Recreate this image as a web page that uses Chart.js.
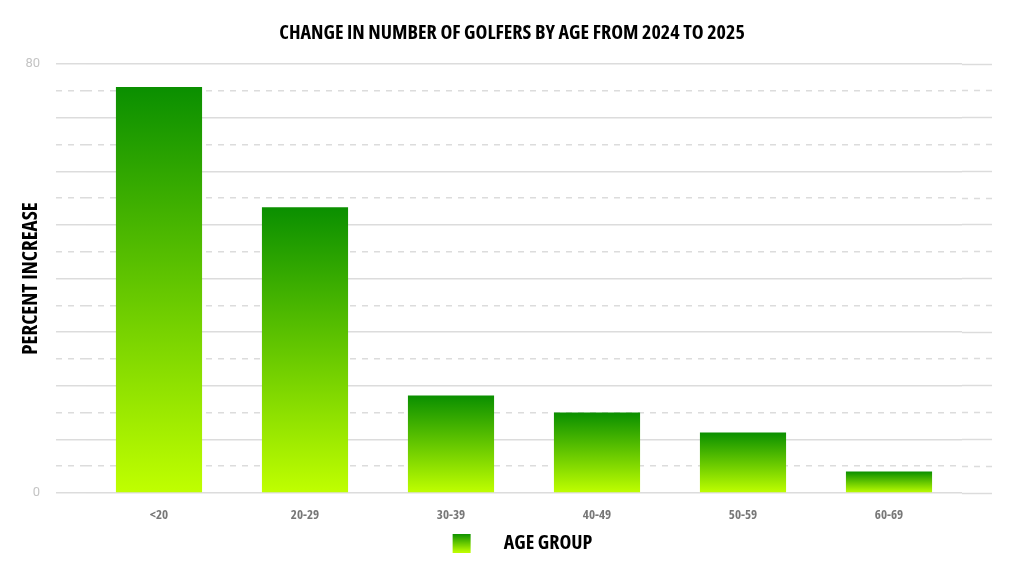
<!DOCTYPE html>
<html>
<head>
<meta charset="utf-8">
<script src="https://cdn.jsdelivr.net/npm/chart.js@4.4.1/dist/chart.umd.min.js"></script>
<style>
  html, body { margin: 0; padding: 0; background: #fff; }
  #wrap { width: 1024px; height: 579px; }
</style>
</head>
<body>
<div id="wrap"><canvas id="chart"></canvas></div>
<script>
// data
const ageGroups = ['<20', '20-29', '30-39', '40-49', '50-59', '60-69'];
const percentIncrease = [75.7, 53.3, 18.2, 15.0, 11.3, 4.0];
const yLabelTicks = [0, 80];

// Open Sans has a width axis, so 'condensed' gets a narrow face
const narrow = '"Open Sans", sans-serif';
const boldNarrow = 'bold condensed';
const topGreen = 'rgb(10,143,0)';
const bottomGreen = 'rgb(192,255,0)';

function barGradient(ctx) {
  const chart = ctx.chart;
  if (!chart.chartArea || ctx.parsed === undefined) return topGreen;
  const y = chart.scales.y;
  const top = y.getPixelForValue(ctx.parsed.y);
  const bottom = y.getPixelForValue(0);
  const g = chart.ctx.createLinearGradient(0, top, 0, bottom);
  g.addColorStop(0, topGreen);
  g.addColorStop(1, bottomGreen);
  return g;
}

// legend swatch: gradient square with empty room either side
const swatch = document.createElement('canvas');
swatch.width = 62; swatch.height = 19;
(function () {
  const c = swatch.getContext('2d');
  const g = c.createLinearGradient(0, 0, 0, 19);
  g.addColorStop(0, topGreen);
  g.addColorStop(1, bottomGreen);
  c.fillStyle = g;
  c.fillRect(21, 0, 18, 19);
})();

function isMajor(v) { return Math.round(v) % 10 === 0; }
const dashFor = c => (c.tick && !isMajor(c.tick.value)) ? [6, 6] : [];

new Chart(document.getElementById('chart'), {
  type: 'bar',
  data: {
    labels: ageGroups,
    datasets: [{
      label: 'AGE GROUP',
      data: percentIncrease,
      backgroundColor: barGradient,
      borderWidth: 0,
      categoryPercentage: 1,
      barPercentage: 0.59
    }]
  },
  options: {
    responsive: true,
    maintainAspectRatio: false,
    animation: false,
    layout: { padding: { left: 0, right: 0, top: 0, bottom: 16 } },
    plugins: {
      tooltip: { enabled: false },
      title: {
        display: true,
        text: 'CHANGE IN NUMBER OF GOLFERS BY AGE FROM 2024 TO 2025',
        color: '#000',
        font: { family: narrow, size: 20, weight: boldNarrow },
        padding: { top: 21, bottom: 19 }
      },
      legend: {
        position: 'bottom',
        labels: {
          usePointStyle: true,
          pointStyle: swatch,
          pointStyleWidth: 62,
          boxHeight: 19,
          color: '#000',
          padding: 8,
          font: { family: narrow, size: 20, weight: boldNarrow }
        }
      }
    },
    scales: {
      x: {
        afterFit: s => { s.height = 32; },
        grid: { display: false, drawTicks: false },
        border: { display: false },
        ticks: {
          color: '#777',
          padding: 14,
          font: { family: narrow, size: 13, weight: boldNarrow }
        }
      },
      y: {
        position: 'left',
        min: 0,
        max: 80,
        afterFit: s => { s.width = 86; },
        ticks: {
          stepSize: 5,
          color: '#c4c4c4',
          padding: 16,
          font: { family: 'Roboto, sans-serif', size: 13 },
          callback: v => yLabelTicks.includes(v) ? v : ''
        },
        grid: {
          color: '#dcdcdc',
          tickColor: '#dcdcdc',
          lineWidth: 1.5,
          tickWidth: 1.5,
          tickLength: 30,
          tickBorderDash: dashFor
        },
        border: { display: false, dash: dashFor },
        title: {
          display: true,
          text: 'PERCENT INCREASE',
          color: '#000',
          font: { family: narrow, size: 21, weight: boldNarrow },
          padding: { top: 18, bottom: 0 }
        }
      },
      yRight: {
        position: 'right',
        min: 0,
        max: 80,
        afterFit: s => { s.width = 62; },
        ticks: { stepSize: 5, display: false },
        grid: {
          drawOnChartArea: false,
          tickColor: '#dcdcdc',
          tickWidth: 1.5,
          tickLength: 30,
          tickBorderDash: dashFor
        },
        border: { display: false }
      }
    }
  }
});
</script>
</body>
</html>
